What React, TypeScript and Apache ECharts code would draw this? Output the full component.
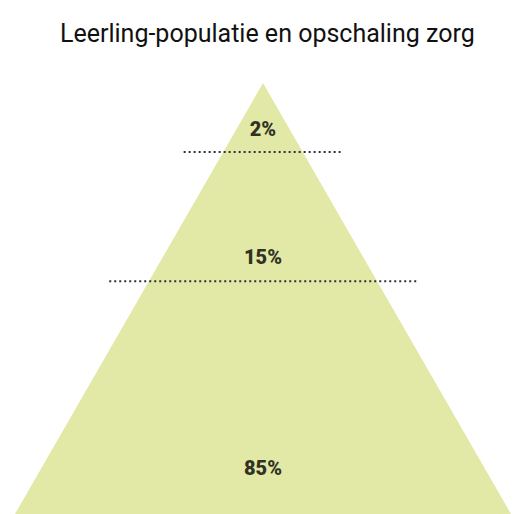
import React, { useEffect, useRef } from "react";
import * as echarts from "echarts";

const title = "Leerling-populatie en opschaling zorg";
// pyramid outline (x: -50..50, y: 0 base .. 100 apex)
const pyramidX = [-50, 0, 50];
const pyramidY = [0, 100, 0];
// boundaries between levels (y units)
const boundaryY = [54, 84];
const boundaryOverhang = 8;
// level labels
const levelLabels = ["85%", "15%", "2%"];
const labelY = [10.6, 59.7, 89.4];

export default function App() {
  const ref = useRef<HTMLDivElement>(null);
  useEffect(() => {
    if (!ref.current) return;
    const chart = echarts.init(ref.current, undefined, { renderer: "svg" });
    const halfWidthAt = (y: number) => 50 * (1 - y / 100);
    const dotted = boundaryY.map((y) => ({
      type: "line",
      data: [
        [-(halfWidthAt(y) + boundaryOverhang), y],
        [halfWidthAt(y) + boundaryOverhang, y],
      ],
      symbol: "none",
      lineStyle: { color: "#2d313b", width: 2, type: [2, 3] },
      z: 3,
    }));
    chart.setOption({
      animation: false,
      backgroundColor: "#ffffff",
      title: {
        text: title,
        left: 55,
        top: 16,
        textStyle: {
          fontFamily: "Roboto",
          fontWeight: "normal",
          fontSize: 25,
          color: "#111111",
        },
      },
      grid: { left: 15, right: 2, top: 83, bottom: 0 },
      xAxis: { type: "value", min: -50, max: 50, show: false },
      yAxis: { type: "value", min: 0, max: 100, show: false },
      series: [
        {
          type: "line",
          data: pyramidX.map((x, i) => [x, pyramidY[i]]),
          symbol: "none",
          lineStyle: { width: 0 },
          areaStyle: { color: "#e2e8a6", opacity: 1 },
          z: 1,
        },
        ...dotted,
        {
          type: "scatter",
          symbolSize: 0,
          data: levelLabels.map((l, i) => ({ name: l, value: [0, labelY[i]] })),
          label: {
            show: true,
            position: "inside",
            formatter: (p: any) => p.name,
            fontFamily: "Roboto",
            fontWeight: 900,
            fontSize: 20,
            color: "#000000",
            textBorderWidth: 0,
          },
          z: 4,
        },
      ],
    });
    return () => chart.dispose();
  }, []);
  return <div ref={ref} style={{ width: 513, height: 514, position: "fixed", left: 0, top: 0 }} />;
}
